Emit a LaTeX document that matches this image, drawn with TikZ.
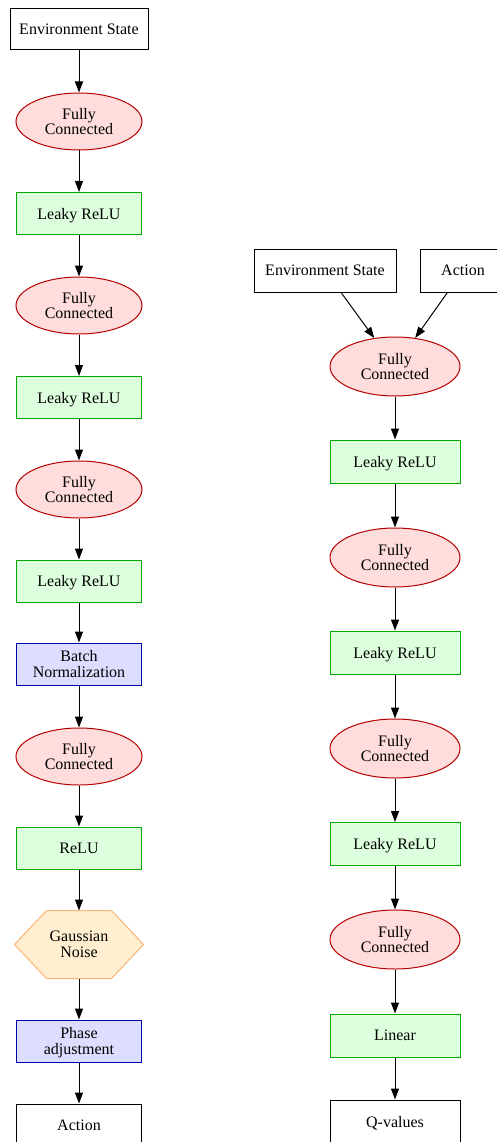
\documentclass[tikz,border=0pt]{standalone}
\usepackage{fontspec}
\setmainfont{Liberation Serif}
\usetikzlibrary{arrows.meta,shapes.geometric,backgrounds}
\definecolor{fcfill}{RGB}{255,221,221}
\definecolor{fcdraw}{RGB}{180,0,0}
\definecolor{grfill}{RGB}{221,255,221}
\definecolor{grdraw}{RGB}{0,170,0}
\definecolor{blfill}{RGB}{221,221,255}
\definecolor{bldraw}{RGB}{0,0,170}
\definecolor{hxfill}{RGB}{255,239,208}
\definecolor{hxdraw}{RGB}{250,180,120}
\begin{document}
\begin{tikzpicture}[x=1pt,y=-1pt,
  base/.style={inner sep=0pt, align=center, text depth=0pt, font=\fontsize{16}{15.8}\selectfont, line width=1pt},
  plain/.style={base, rectangle, draw=black, fill=white, minimum width=125pt, minimum height=42pt},
  fcl/.style={base, ellipse, draw=fcdraw, fill=fcfill, minimum width=126pt, minimum height=57pt},
  fcr/.style={base, ellipse, draw=fcdraw, fill=fcfill, minimum width=130pt, minimum height=59pt},
  grl/.style={base, rectangle, draw=grdraw, fill=grfill, minimum width=125pt, minimum height=42pt},
  grr/.style={base, rectangle, draw=grdraw, fill=grfill, minimum width=130pt, minimum height=43pt},
  bl/.style={base, rectangle, draw=bldraw, fill=blfill, minimum width=125pt, minimum height=42pt},
  hx/.style={base, rectangle, minimum width=128pt, minimum height=67pt},
  hxline/.style={draw=hxdraw, fill=hxfill, line width=1pt},
  arr/.style={-{Triangle[length=11pt,width=8pt]}, line width=1pt}
]
\useasboundingbox (0,0) rectangle (497,1142);
% left column
\node[plain, minimum width=138pt, minimum height=41pt] (l0) at (79,29.5) {Environment State};
\node[fcl] (l1) at (79,121.5) {Fully\\Connected};
\node[grl] (l2) at (79,213.5) {Leaky ReLU};
\node[fcl] (l3) at (79,305.5) {Fully\\Connected};
\node[grl] (l4) at (79,397.5) {Leaky ReLU};
\node[fcl] (l5) at (79,489.5) {Fully\\Connected};
\node[grl] (l6) at (79,581) {Leaky ReLU};
\node[bl] (l7) at (79,664) {Batch\\Normalization};
\node[fcl] (l8) at (79,756.5) {Fully\\Connected};
\node[grl] (l9) at (79,848) {ReLU};
\node[hx] (l10) at (79,944.5) {Gaussian\\Noise};
\begin{scope}[on background layer]
\draw[hxline] (l10.west) -- ([xshift=32pt]l10.north west) -- ([xshift=-32pt]l10.north east) -- (l10.east) -- ([xshift=-32pt]l10.south east) -- ([xshift=32pt]l10.south west) -- cycle;
\end{scope}
\node[bl] (l11) at (79,1041) {Phase\\adjustment};
\node[plain] (l12) at (79,1125) {Action};
\foreach \a/\b in {l0/l1,l1/l2,l2/l3,l3/l4,l4/l5,l5/l6,l6/l7,l7/l8,l8/l9,l9/l10,l10/l11,l11/l12}
  \draw[arr] (\a) -- (\b);
% right column
\node[plain, minimum width=142pt, minimum height=43pt] (r0) at (325,270.5) {Environment State};
\node[plain, minimum width=86pt, minimum height=43pt] (ra) at (463,270.5) {Action};
\node[fcr] (r1) at (395,366.5) {Fully\\Connected};
\node[grr] (r2) at (395,461.5) {Leaky ReLU};
\node[fcr] (r3) at (395,557.5) {Fully\\Connected};
\node[grr] (r4) at (395,652.5) {Leaky ReLU};
\node[fcr] (r5) at (395,748.5) {Fully\\Connected};
\node[grr] (r6) at (395,844) {Leaky ReLU};
\node[fcr] (r7) at (395,939.5) {Fully\\Connected};
\node[grr] (r8) at (395,1035.5) {Linear};
\node[plain, minimum width=130pt, minimum height=43pt] (r9) at (395,1121.5) {Q-values};
\foreach \a/\b in {r0/r1,ra/r1,r1/r2,r2/r3,r3/r4,r4/r5,r5/r6,r6/r7,r7/r8,r8/r9}
  \draw[arr] (\a) -- (\b);
\end{tikzpicture}
\end{document}
